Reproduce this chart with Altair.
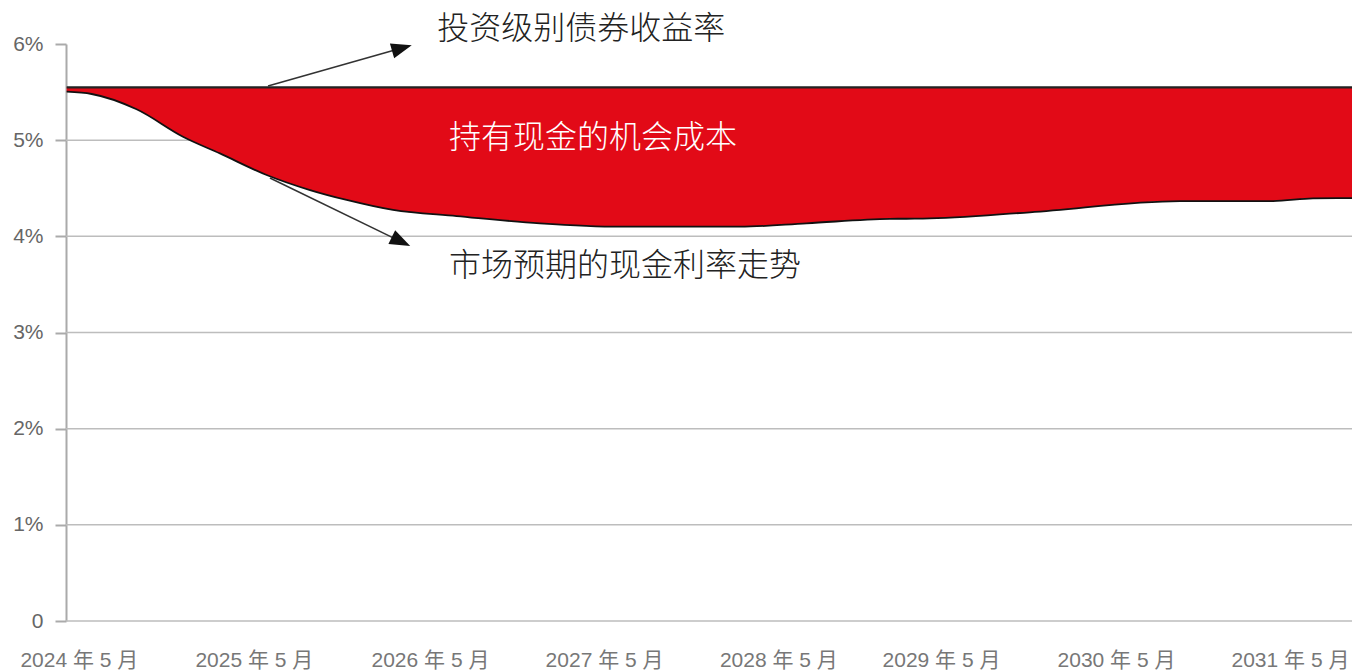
import altair as alt
import pandas as pd

# ---- data (x = years since May 2024, y = percent) ----
years_since = [-0.076, 0.067, 0.325, 0.591, 0.803, 1.071, 1.320, 1.530, 1.796, 2.161,
               2.639, 3.098, 3.787, 4.169, 4.647, 4.836, 5.450, 6.311, 6.845, 7.074, 7.298]
cash_rate = [5.504, 5.480, 5.321, 5.036, 4.862, 4.638, 4.481, 4.378, 4.274, 4.211,
             4.135, 4.100, 4.100, 4.135, 4.182, 4.184, 4.250, 4.367, 4.367, 4.395, 4.398]
bond_yield = [5.55, 5.55, 5.55, 5.55, 5.55, 5.55, 5.55, 5.55, 5.55, 5.55,
              5.55, 5.55, 5.55, 5.55, 5.55, 5.55, 5.55, 5.55, 5.55, 5.55, 5.55]

tick_positions = [-0.006, 0.998, 2.008, 3.007, 4.007, 4.940, 5.944, 6.942]
tick_labels = ["2024 年 5 月", "2025 年 5 月", "2026 年 5 月", "2027 年 5 月",
               "2028 年 5 月", "2029 年 5 月", "2030 年 5 月", "2031 年 5 月"]
y_ticks = [0, 1, 2, 3, 4, 5, 6]
grid_values = [0, 1, 2, 3, 4, 5]

# annotations (data units)
ann_text = ["投资级别债券收益率", "持有现金的机会成本", "市场预期的现金利率走势"]
ann_x = [2.050, 2.117, 2.117]
ann_y = [6.156, 5.026, 3.691]
ann_color = ["#222222", "#ffffff", "#222222"]

arrow_x = [1.079, 1.090]
arrow_y = [5.563, 4.606]
arrow_x2 = [1.847, 1.842]
arrow_y2 = [5.958, 3.945]
arrow_angle = [74, 116]

df = pd.DataFrame({"t": years_since, "cash": cash_rate, "bond": bond_yield})
grid_df = pd.DataFrame({"v": grid_values})
ann_df = pd.DataFrame({"text": ann_text, "x": ann_x, "y": ann_y, "c": ann_color})
arr_df = pd.DataFrame({"x": arrow_x, "y": arrow_y, "x2": arrow_x2, "y2": arrow_y2,
                       "angle": arrow_angle})

xs = alt.Scale(domain=[-0.08, 7.298], nice=False, zero=False)
ys = alt.Scale(domain=[0, 6], nice=False, zero=True)

label_map = "{" + ",".join(f"'{p}':'{l}'" for p, l in zip(tick_positions, tick_labels)) + "}"

x_axis = alt.Axis(values=tick_positions,
                  labelExpr=f"{label_map}[toString(datum.value)]",
                  domain=False, ticks=False, grid=False, title=None,
                  labelFont="Liberation Sans, Noto Sans CJK SC", labelFontSize=21,
                  labelColor="#777777", labelPadding=28, labelFlush=False,
                  labelOverlap=False)
y_axis = alt.Axis(values=y_ticks,
                  labelExpr="datum.value == 0 ? '0' : datum.value + '%'",
                  grid=False, title=None, domainColor="#aaaaaa", domainWidth=2,
                  tickColor="#aaaaaa", tickWidth=2, tickSize=11,
                  labelFont="Liberation Sans", labelFontSize=21, labelColor="#666666",
                  labelPadding=12)

grid = alt.Chart(grid_df).mark_rule(color="#bdbdbd", strokeWidth=1.5).encode(
    y=alt.Y("v:Q", scale=ys, axis=y_axis)
)

area = alt.Chart(df).mark_area(color="#e20a17", opacity=1, interpolate="monotone").encode(
    x=alt.X("t:Q", scale=xs, axis=x_axis),
    y=alt.Y("cash:Q", scale=ys, axis=y_axis),
    y2="bond:Q",
)

top_line = alt.Chart(df).mark_line(color="#222222", strokeWidth=2.2).encode(
    x=alt.X("t:Q", scale=xs, axis=x_axis),
    y=alt.Y("bond:Q", scale=ys, axis=y_axis),
)

low_line = alt.Chart(df).mark_line(color="#111111", strokeWidth=1.8,
                                   interpolate="monotone").encode(
    x=alt.X("t:Q", scale=xs, axis=x_axis),
    y=alt.Y("cash:Q", scale=ys, axis=y_axis),
)

arrows = alt.Chart(arr_df).mark_rule(color="#333333", strokeWidth=1.6).encode(
    x=alt.X("x:Q", scale=xs, axis=x_axis),
    y=alt.Y("y:Q", scale=ys, axis=y_axis),
    x2="x2:Q",
    y2="y2:Q",
)

heads = alt.Chart(arr_df).mark_point(
    shape="M0,-1L0.75,1L-0.75,1Z", filled=True, color="#111111", opacity=1, size=420
).encode(
    x=alt.X("x2:Q", scale=xs, axis=x_axis),
    y=alt.Y("y2:Q", scale=ys, axis=y_axis),
    angle=alt.Angle("angle:Q", scale=None),
)

texts = alt.Chart(ann_df).mark_text(
    align="left", baseline="middle", font="Noto Sans CJK SC", fontSize=32, fontWeight=300
).encode(
    x=alt.X("x:Q", scale=xs, axis=x_axis),
    y=alt.Y("y:Q", scale=ys, axis=y_axis),
    text="text:N",
    color=alt.Color("c:N", scale=None),
)

chart = alt.layer(grid, area, top_line, low_line, arrows, heads, texts).properties(
    width=1286, height=577,
    autosize=alt.AutoSizeParams(type="none"),
    padding={"left": 66, "top": 44, "right": 0, "bottom": 49},
    background="white",
).configure_view(stroke=None)

chart.save("out.html", embed_options={"renderer": "svg", "actions": False})
